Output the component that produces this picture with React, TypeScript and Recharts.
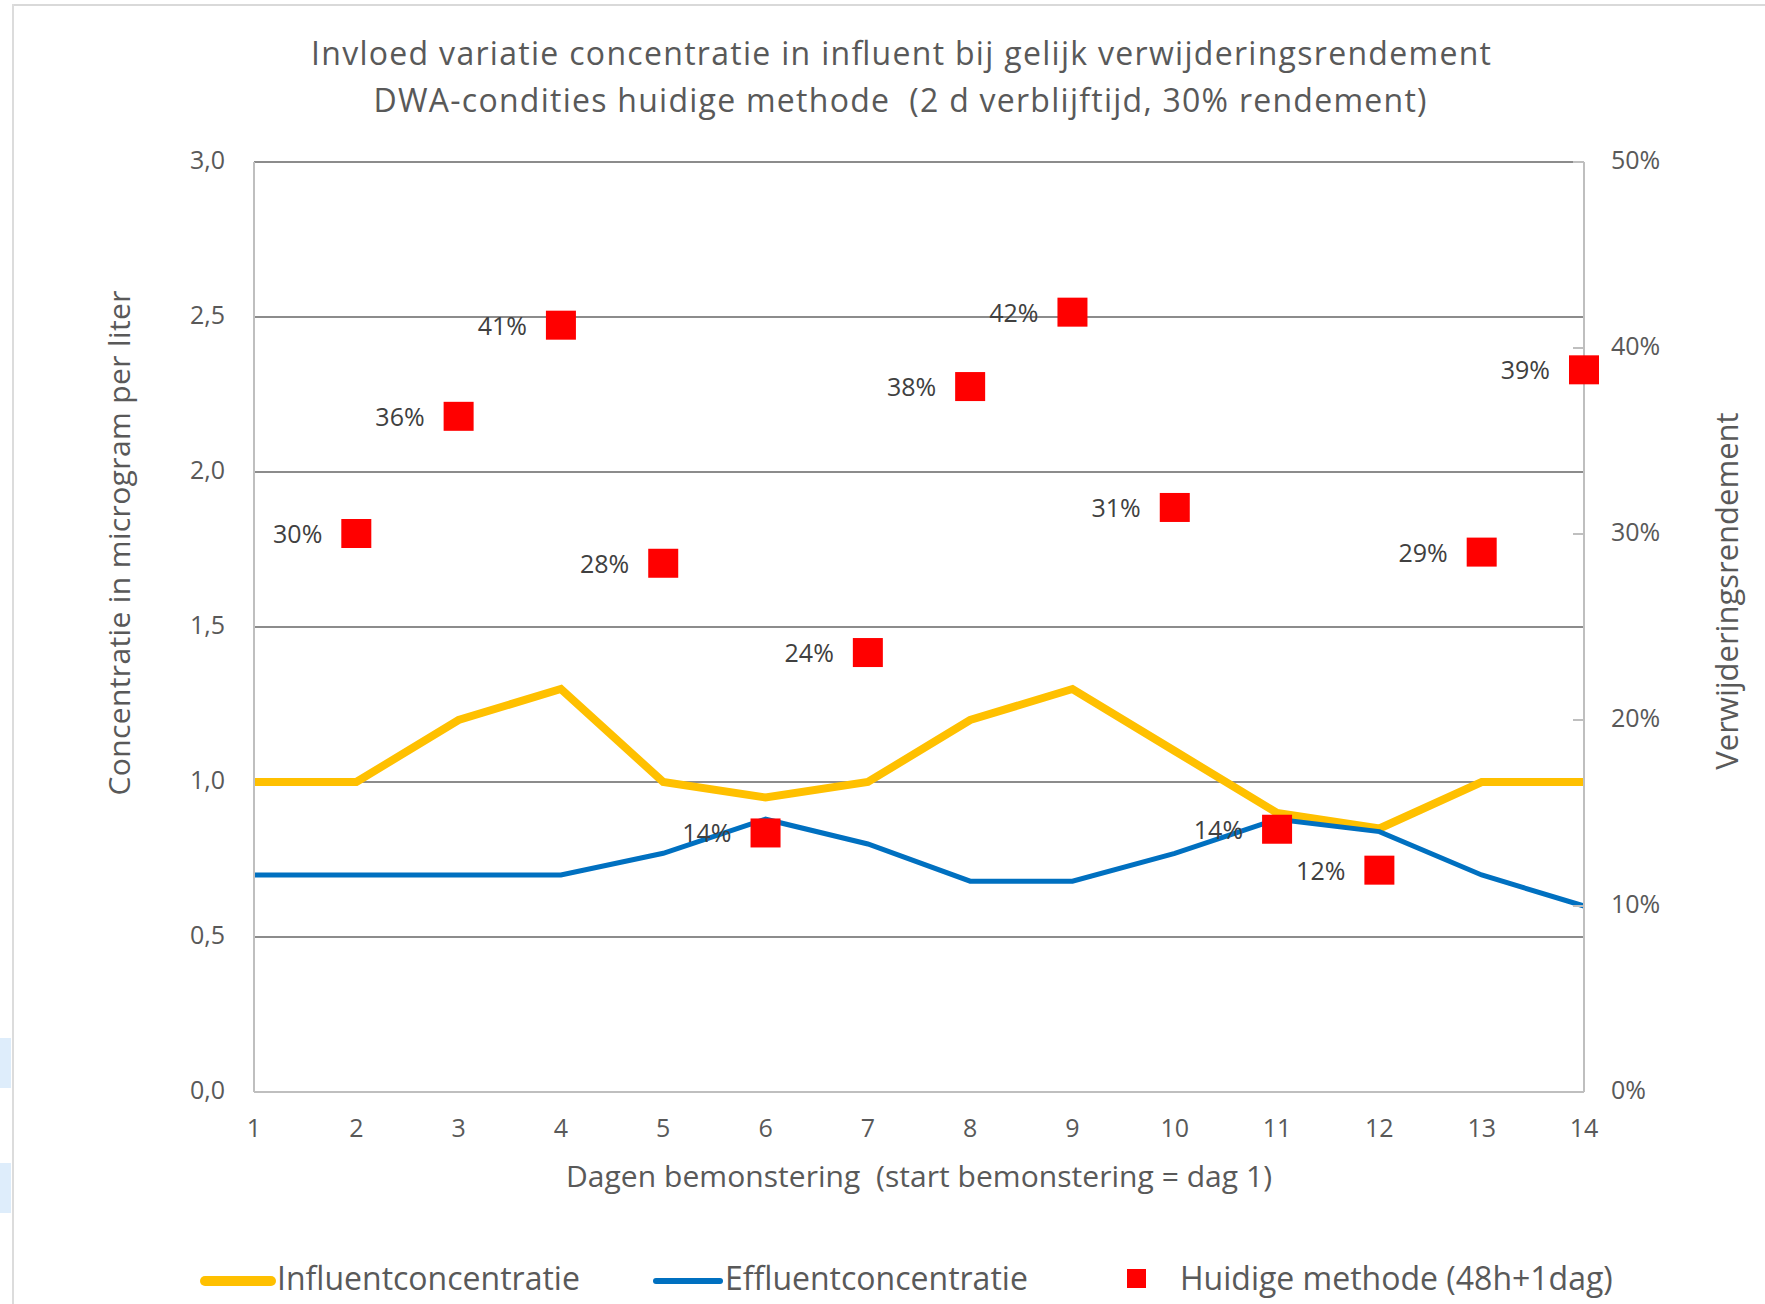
import { ComposedChart, Line, Scatter, XAxis, YAxis, CartesianGrid } from "recharts";

const days = [1, 2, 3, 4, 5, 6, 7, 8, 9, 10, 11, 12, 13, 14];
const influent = [1.0, 1.0, 1.2, 1.3, 1.0, 0.95, 1.0, 1.2, 1.3, 1.1, 0.9, 0.85, 1.0, 1.0];
const effluent = [0.7, 0.7, 0.7, 0.7, 0.77, 0.88, 0.8, 0.68, 0.68, 0.77, 0.88, 0.84, 0.7, 0.6];
const rendementDays = [2, 3, 4, 5, 6, 7, 8, 9, 10, 11, 12, 13, 14];
const rendement = [30.0, 36.3, 41.2, 28.4, 13.9, 23.6, 37.9, 41.9, 31.4, 14.1, 11.9, 29.0, 38.8];
const leftTicks = [0, 0.5, 1.0, 1.5, 2.0, 2.5, 3.0];
const rightTicks = [0, 10, 20, 30, 40, 50];

const titleLines = [
  "Invloed variatie concentratie in influent bij gelijk verwijderingsrendement",
  "DWA-condities huidige methode\u00A0 (2 d verblijftijd, 30% rendement)",
];
const xTitle = "Dagen bemonstering\u00A0 (start bemonstering = dag 1)";
const yLeftTitle = "Concentratie in microgram per liter";
const yRightTitle = "Verwijderingsrendement";
const legendNames = ["Influentconcentratie", "Effluentconcentratie", "Huidige methode (48h+1dag)"];

const lineData = days.map((d, i) => ({ day: d, influent: influent[i], effluent: effluent[i] }));
const scatterData = rendementDays.map((d, i) => ({ day: d, rendement: rendement[i] }));

const FONT = "'Open Sans', sans-serif";
const TEXT = "#595959";

function Square(props: any) {
  const { cx, cy, payload } = props;
  if (cx == null || cy == null) return null;
  return (
    <g>
      <rect x={cx - 15} y={cy - 15} width={30} height={29} fill="#FF0000" />
      <text
        x={cx - 34}
        y={cy - 1}
        textAnchor="end"
        dominantBaseline="central"
        fontFamily={FONT}
        fontSize={25}
        fill="#404040"
      >
        {Math.round(payload.rendement)}%
      </text>
    </g>
  );
}

function LeftTick(props: any) {
  const { x, y, payload } = props;
  return (
    <text x={x} y={y - 3} textAnchor="end" dominantBaseline="central" fontFamily={FONT} fontSize={25} fill={TEXT}>
      {payload.value.toFixed(1).replace(".", ",")}
    </text>
  );
}

function RightTick(props: any) {
  const { x, y, payload } = props;
  return (
    <g>
      <line x1={x - 11} y1={y} x2={x} y2={y} stroke="#BFBFBF" strokeWidth={2} />
      <text x={x + 27} y={y - 3} dominantBaseline="central" fontFamily={FONT} fontSize={25} fill={TEXT}>
        {payload.value}%
      </text>
    </g>
  );
}

export default function App() {
  return (
    <div style={{ position: "absolute", left: 0, top: 0, width: 1765, height: 1304, background: "#fff" }}>
      <div style={{ position: "absolute", left: 12, top: 4, right: 0, height: 2, background: "#d9d9d9" }} />
      <div style={{ position: "absolute", left: 12, top: 4, width: 2, bottom: 0, background: "#dcdcdc" }} />
      <div style={{ position: "absolute", left: 0, top: 1038, width: 11, height: 50, background: "#deedfb" }} />
      <div style={{ position: "absolute", left: 0, top: 1163, width: 11, height: 50, background: "#deedfb" }} />
      <ComposedChart
        width={1765}
        height={1304}
        data={lineData}
        margin={{ top: 162, right: 0, bottom: 152, left: 0 }}
        style={{ position: "absolute", left: 0, top: 0 }}
      >
        <CartesianGrid yAxisId="left" horizontal vertical={false} stroke="#8C8C8C" strokeWidth={2} />
        <XAxis
          type="number"
          dataKey="day"
          domain={[1, 14]}
          ticks={days}
          height={60}
          axisLine={{ stroke: "#BFBFBF", strokeWidth: 2 }}
          tickLine={false}
          tickSize={0}
          tickMargin={27}
          tick={{ fontFamily: FONT, fontSize: 25, fill: TEXT }}
        />
        <YAxis
          yAxisId="left"
          domain={[0, 3]}
          ticks={leftTicks}
          width={254}
          axisLine={{ stroke: "#BFBFBF", strokeWidth: 2 }}
          tickLine={false}
          tickSize={0}
          tickMargin={29}
          tick={<LeftTick />}
        />
        <YAxis
          yAxisId="right"
          orientation="right"
          domain={[0, 50]}
          ticks={rightTicks}
          width={181}
          axisLine={{ stroke: "#BFBFBF", strokeWidth: 2 }}
          tickLine={false}
          tickSize={0}
          tickMargin={0}
          tick={<RightTick />}
        />
        <Line
          yAxisId="left"
          type="linear"
          dataKey="influent"
          stroke="#FFC000"
          strokeWidth={8}
          dot={false}
          isAnimationActive={false}
        />
        <Line
          yAxisId="left"
          type="linear"
          dataKey="effluent"
          stroke="#0070C0"
          strokeWidth={5}
          dot={false}
          isAnimationActive={false}
        />
        <Scatter
          yAxisId="right"
          data={scatterData}
          dataKey="rendement"
          shape={<Square />}
          isAnimationActive={false}
        />
      </ComposedChart>
      <svg
        width={1765}
        height={1304}
        style={{ position: "absolute", left: 0, top: 0, pointerEvents: "none" }}
        fontFamily={FONT}
        fill={TEXT}
      >
        <text
          x={901}
          y={52}
          textAnchor="middle"
          dominantBaseline="central"
          fontSize={32}
          textLength={1180}
          lengthAdjust="spacing"
        >
          {titleLines[0]}
        </text>
        <text
          x={900}
          y={99}
          textAnchor="middle"
          dominantBaseline="central"
          fontSize={32}
          textLength={1053}
          lengthAdjust="spacing"
        >
          {titleLines[1]}
        </text>
        <text
          x={919}
          y={1175}
          textAnchor="middle"
          dominantBaseline="central"
          fontSize={30}
          textLength={706}
          lengthAdjust="spacing"
        >
          {xTitle}
        </text>
        <text
          x={118}
          y={543}
          textAnchor="middle"
          dominantBaseline="central"
          fontSize={30}
          textLength={505}
          lengthAdjust="spacing"
          transform="rotate(-90 118 543)"
        >
          {yLeftTitle}
        </text>
        <text
          x={1726}
          y={591}
          textAnchor="middle"
          dominantBaseline="central"
          fontSize={31}
          transform="rotate(-90 1726 591)"
        >
          {yRightTitle}
        </text>
        <line x1={205} y1={1281} x2={271} y2={1281} stroke="#FFC000" strokeWidth={10} strokeLinecap="round" />
        <text x={277} y={1290} fontSize={32}>{legendNames[0]}</text>
        <line x1={656} y1={1281} x2={720} y2={1281} stroke="#0070C0" strokeWidth={6} strokeLinecap="round" />
        <text x={725} y={1290} fontSize={32}>{legendNames[1]}</text>
        <rect x={1127} y={1269} width={19} height={19} fill="#FF0000" />
        <text x={1180} y={1290} fontSize={32}>{legendNames[2]}</text>
      </svg>
    </div>
  );
}
